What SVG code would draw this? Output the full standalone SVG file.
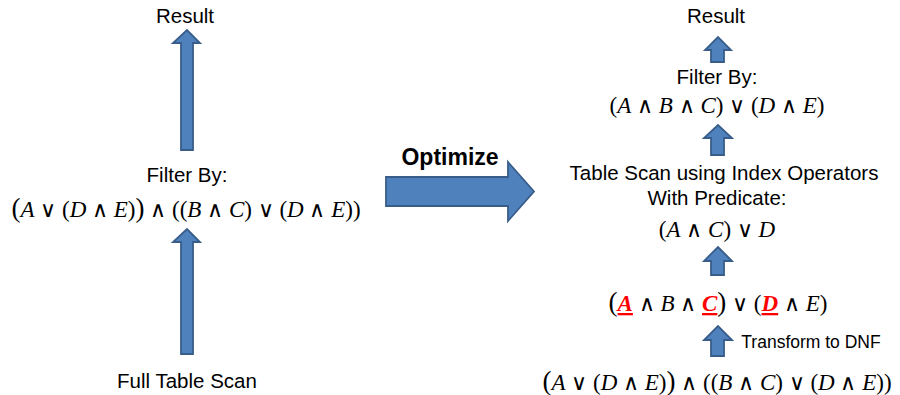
<svg xmlns="http://www.w3.org/2000/svg" width="900" height="395" viewBox="0 0 900 395">
<style>
.t{font-family:"Liberation Sans","DejaVu Sans",sans-serif;font-size:20.5px;fill:#000;text-anchor:middle}
.m{font-family:"Liberation Serif","DejaVu Serif",serif;font-size:23px;fill:#000;text-anchor:middle}
.o{font-family:"DejaVu Sans",sans-serif;font-weight:200;font-size:22px}
.v{font-style:italic}
.r{font-style:italic;font-weight:bold;fill:#ff0000;text-decoration:underline}
.arr{fill:#4F81BD;stroke:#385D8A;stroke-width:1.8;stroke-linejoin:miter}
</style>
<rect width="900" height="395" fill="#fff"/>
<g id="left-result"><text class="t" x="185" y="23">Result</text></g>
<g id="left-filter">
<text class="t" x="187" y="182">Filter By:</text>
<text class="m" x="186" y="217"><tspan font-size="27">(</tspan><tspan class="v">A</tspan> <tspan class="o">∨</tspan> (<tspan class="v">D</tspan> <tspan class="o">∧</tspan> <tspan class="v">E</tspan>)<tspan font-size="27">)</tspan> <tspan class="o">∧</tspan> ((<tspan class="v">B</tspan> <tspan class="o">∧</tspan> <tspan class="v">C</tspan>) <tspan class="o">∨</tspan> (<tspan class="v">D</tspan> <tspan class="o">∧</tspan> <tspan class="v">E</tspan>))</text>
</g>
<g id="left-scan"><text class="t" x="187" y="388">Full Table Scan</text></g>
<g id="optimize"><text class="t" x="450" y="165" style="font-weight:bold;font-size:23px">Optimize</text></g>
<g id="right-result"><text class="t" x="716" y="23">Result</text></g>
<g id="right-filter">
<text class="t" x="717" y="84">Filter By:</text>
<text class="m" x="717" y="113">(<tspan class="v">A</tspan> <tspan class="o">∧</tspan> <tspan class="v">B</tspan> <tspan class="o">∧</tspan> <tspan class="v">C</tspan>) <tspan class="o">∨</tspan> (<tspan class="v">D</tspan> <tspan class="o">∧</tspan> <tspan class="v">E</tspan>)</text>
</g>
<g id="index-scan">
<text class="t" x="724" y="180">Table Scan using Index Operators</text>
<text class="t" x="717" y="205">With Predicate:</text>
<text class="m" x="717" y="237">(<tspan class="v">A</tspan> <tspan class="o">∧</tspan> <tspan class="v">C</tspan>) <tspan class="o">∨</tspan> <tspan class="v">D</tspan></text>
</g>
<g id="dnf">
<text class="m" x="718" y="311"><tspan font-size="27">(</tspan><tspan class="r">A</tspan> <tspan class="o">∧</tspan> <tspan class="v">B</tspan> <tspan class="o">∧</tspan> <tspan class="r">C</tspan><tspan font-size="27">)</tspan> <tspan class="o">∨</tspan> (<tspan class="r">D</tspan> <tspan class="o">∧</tspan> <tspan class="v">E</tspan>)</text>
</g>
<g id="cnf">
<text class="m" x="717" y="390"><tspan font-size="27">(</tspan><tspan class="v">A</tspan> <tspan class="o">∨</tspan> (<tspan class="v">D</tspan> <tspan class="o">∧</tspan> <tspan class="v">E</tspan>)<tspan font-size="27">)</tspan> <tspan class="o">∧</tspan> ((<tspan class="v">B</tspan> <tspan class="o">∧</tspan> <tspan class="v">C</tspan>) <tspan class="o">∨</tspan> (<tspan class="v">D</tspan> <tspan class="o">∧</tspan> <tspan class="v">E</tspan>))</text>
</g>
<g id="transform-label"><text class="t" x="811" y="348" style="font-size:17.5px">Transform to DNF</text></g>
<g id="connectors">
<path class="arr" d="M181,150 V43 H173 L187,30 L200,43 H193 V150 Z"/>
<path class="arr" d="M181,354 V242 H173 L187,229 L200,242 H193 V354 Z"/>
<path class="arr" d="M386,177 H508 V162 L534,191.5 L508,221 V206 H386 Z"/>
<path class="arr" d="M711,62 V50 H705 L718,37 L731,50 H724 V62 Z"/>
<path class="arr" d="M711,155 V138 H704 L718,125 L732,138 H724 V155 Z"/>
<path class="arr" d="M711,275 V261 H704 L718,247 L732,261 H724 V275 Z"/>
<path class="arr" d="M711,356 V340 H704 L718,326 L732,340 H724 V356 Z"/>
</g>
</svg>
